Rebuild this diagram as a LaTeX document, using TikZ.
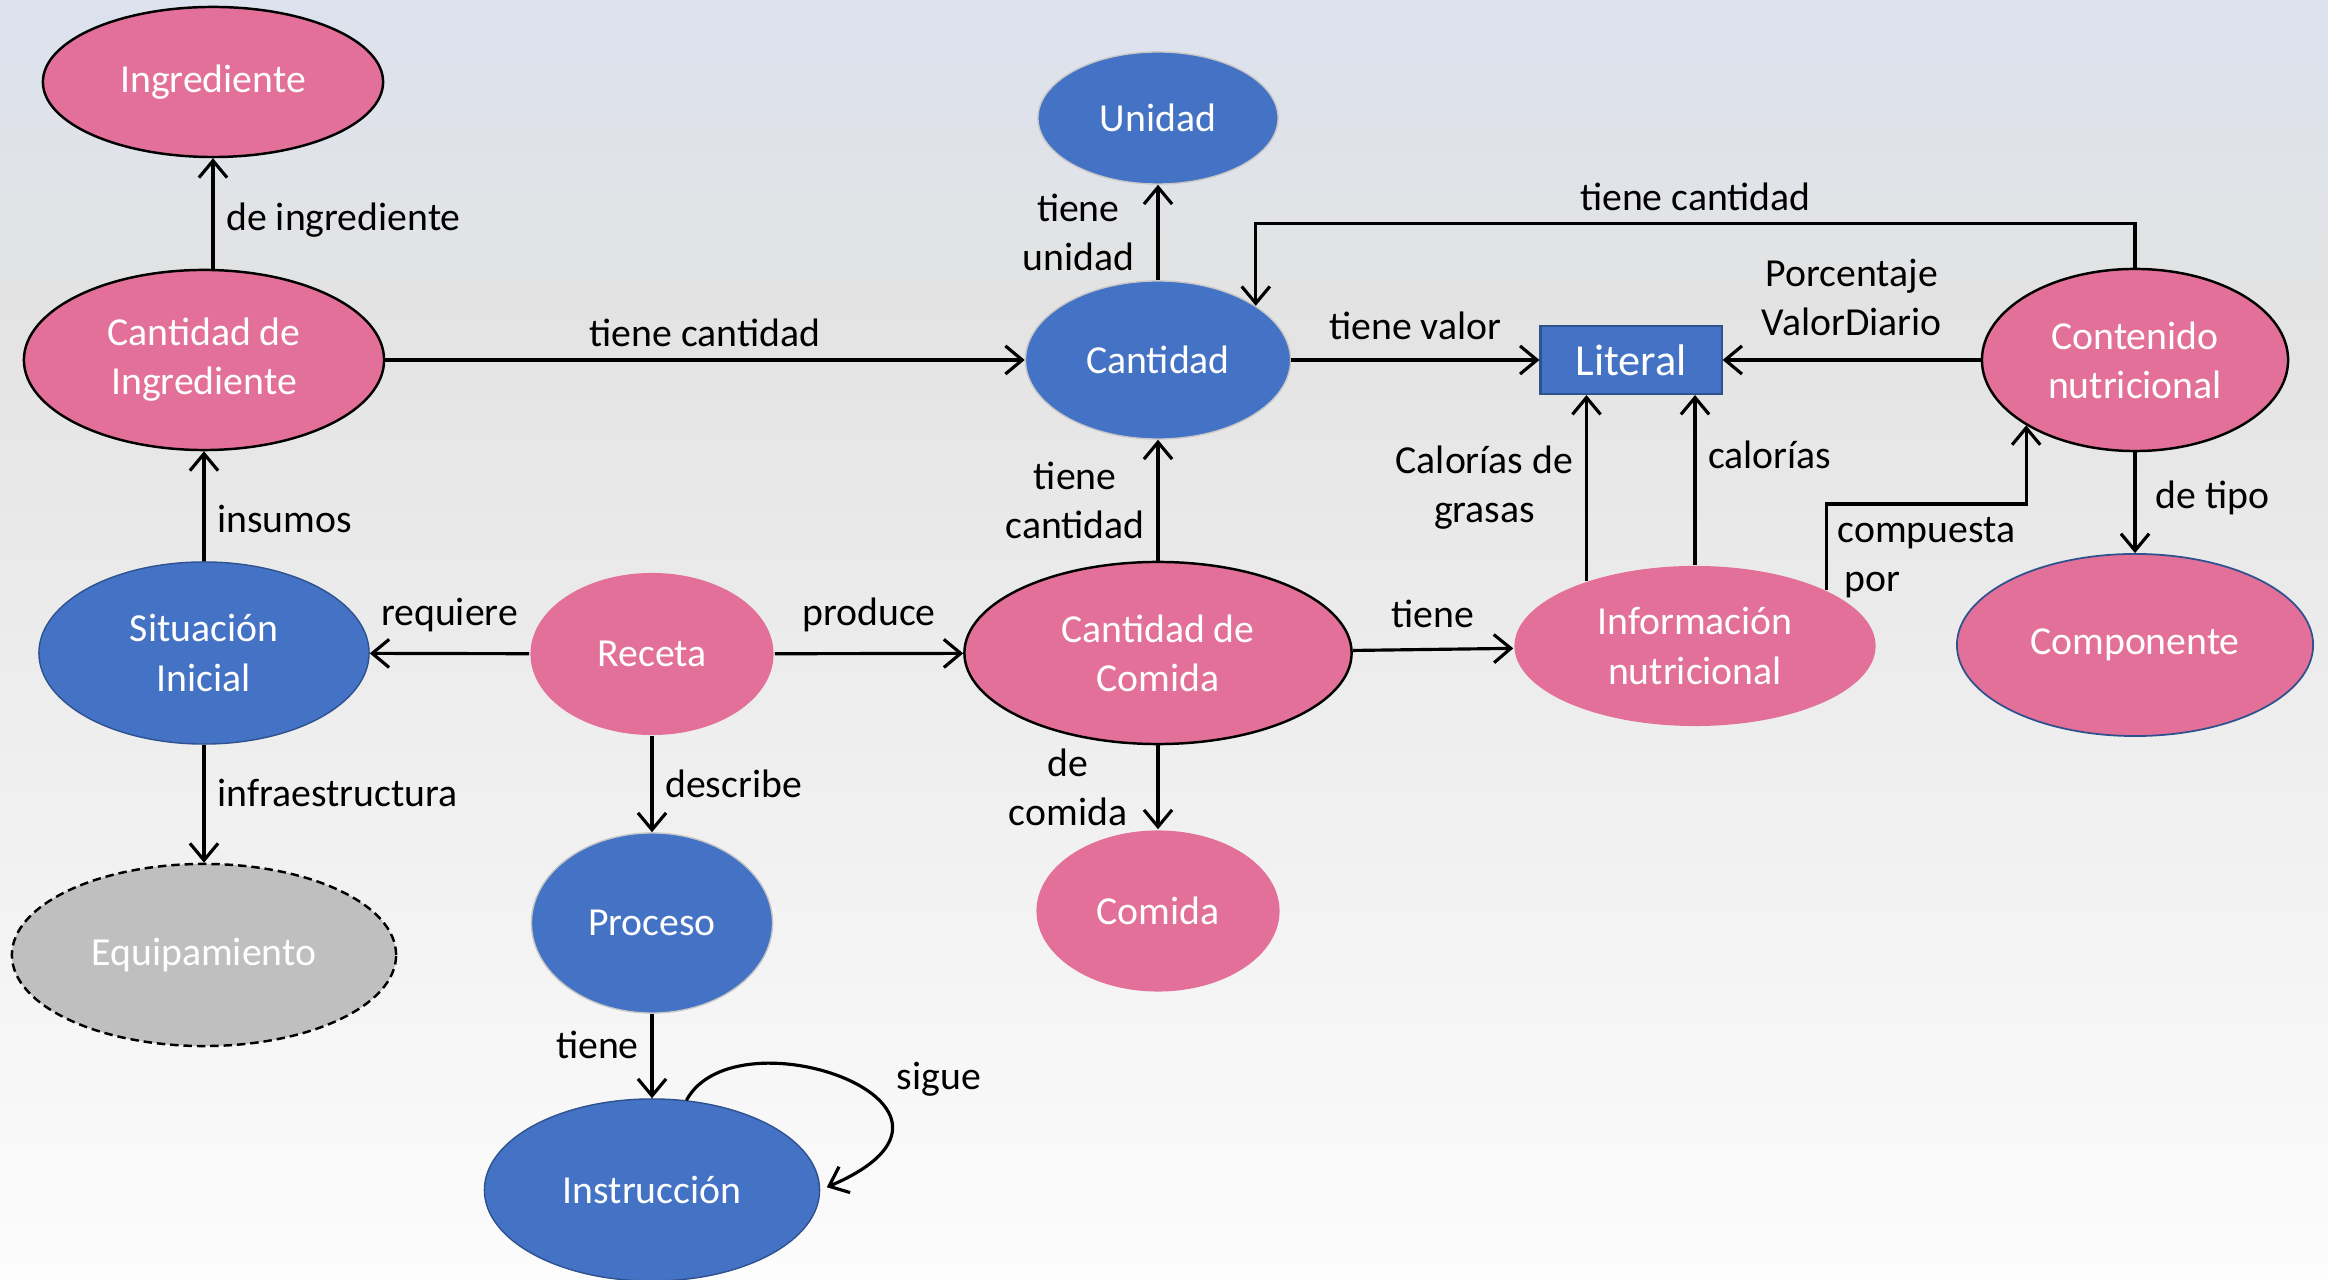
\documentclass[tikz,border=0pt]{standalone}
\usepackage{fontspec}
\setmainfont{Carlito}
\usetikzlibrary{shapes.geometric,arrows.meta}

\definecolor{rosa}{HTML}{E27098}
\definecolor{azul}{HTML}{4472C4}
\definecolor{azulborde}{HTML}{2F528F}
\definecolor{gris}{HTML}{BFBFBF}
\definecolor{fondoarriba}{HTML}{DCE2EE}
\definecolor{fondomedio}{HTML}{E3E3E3}
\definecolor{fondoabajo}{HTML}{FCFCFC}

\begin{document}
\begin{tikzpicture}[->,>={Straight Barb[length=4.8pt,width=8pt]},line width=0.9pt,x=0.01cm,y=-0.01cm,
  font=\fontsize{11.3}{14}\selectfont,
  concepto/.style={ellipse,inner sep=0pt,text=white,align=center,line width=0.7pt},
  rosado/.style={concepto,fill=rosa},
  azulado/.style={concepto,fill=azul,draw=azulborde,line width=0.4pt},
  azulsuave/.style={azulado,draw=black!22},
  literal/.style={rectangle,fill=azul,draw=azulborde,line width=0.6pt,text=white,minimum width=1.81cm,minimum height=0.68cm,font=\fontsize{12.6}{15}\selectfont}]
\shade[-,top color=fondoarriba,bottom color=fondomedio] (0,0) rectangle (2328,300);
\shade[-,top color=fondomedio,bottom color=fondoabajo] (0,299) rectangle (2328,1280);
\useasboundingbox (0,0) rectangle (2328,1280);
\node[rosado,draw,minimum width=3.4cm,minimum height=1.5cm] (ingrediente) at (213,82) {Ingrediente};
\node[rosado,draw,minimum width=3.6cm,minimum height=1.8cm] (cantingr) at (204,360) {Cantidad de\\Ingrediente};
\node[azulsuave,minimum width=2.4cm,minimum height=1.32cm] (unidad) at (1158,118) {Unidad};
\node[azulsuave,minimum width=2.65cm,minimum height=1.58cm] (cantidad) at (1158,360) {Cantidad};
\node[literal] (literal) at (1631,360) {Literal};
\node[rosado,draw,minimum width=3.06cm,minimum height=1.82cm] (contnutr) at (2135,360) {Contenido\\nutricional};
\node[azulado,minimum width=3.3cm,minimum height=1.82cm] (sitini) at (204,653) {Situación\\Inicial};
\node[rosado,minimum width=2.43cm,minimum height=1.62cm] (receta) at (652,654) {Receta};
\node[rosado,draw,minimum width=3.87cm,minimum height=1.82cm] (cantcomida) at (1158,653) {Cantidad de\\Comida};
\node[rosado,minimum width=3.61cm,minimum height=1.6cm] (infonutr) at (1695,646) {Información\\nutricional};
\node[rosado,draw=azulborde,line width=0.5pt,minimum width=3.56cm,minimum height=1.82cm] (componente) at (2135,645) {Componente};
\node[concepto,fill=gris,draw,dash pattern=on 2.4pt off 1.4pt,minimum width=3.84cm,minimum height=1.82cm] (equipamiento) at (204,955) {Equipamiento};
\node[azulsuave,minimum width=2.41cm,minimum height=1.8cm] (proceso) at (652,923) {Proceso};
\node[rosado,minimum width=2.43cm,minimum height=1.61cm] (comida) at (1158,911) {Comida};
\node[azulado,minimum width=3.35cm,minimum height=1.82cm] (instruccion) at (652,1190) {Instrucción};
\path (cantingr.north -| ingrediente) edge node[right,pos=0.44] {de ingrediente} (ingrediente);
\path (cantingr) edge node[above] {tiene cantidad} (cantidad);
\path (sitini) edge node[right,pos=0.38] {insumos} (cantingr);
\path (receta) edge node[above=2.5pt] {requiere} (sitini);
\path (receta) edge node[above=2.5pt] {produce} (cantcomida);
\path (receta) edge node[right] {describe} (proceso);
\path (sitini) edge node[right,pos=0.41] {infraestructura} (equipamiento);
\path (proceso) edge node[left,pos=0.37] {tiene} (instruccion);
\draw[shorten >=2pt] (instruccion.69) .. controls +(50,-92) and +(194,-83) .. (instruccion.east) node[pos=0.5,right=11pt] {sigue};
\path (cantidad) edge node[left=3pt,align=center] {tiene\\unidad} (unidad);
\path (cantidad) edge node[above=2pt] {tiene valor} (literal);
\path (cantcomida) edge node[left,align=center] {tiene\\cantidad} (cantidad);
\path (cantcomida) edge node[above=2.5pt] {tiene} (infonutr);
\path (cantcomida) edge node[left=5pt,align=center] {de\\comida} (comida);
\path (infonutr.149) edge node[left,align=center] {Calorías de\\grasas} (infonutr.149 |- literal.south);
\path (infonutr.north) edge node[right,pos=0.65] {calorías} (infonutr.north |- literal.south);
\path (contnutr) edge node[above=3pt,align=center] {Porcentaje\\ValorDiario} (literal);
\draw (contnutr.north) -- ++(0,-44) -| node[pos=0.25,above] {tiene cantidad} (cantidad.29);
\draw (infonutr.23) -- ++(0,-86) -| node[pos=0.25,below,align=left] {compuesta\\\hspace*{2pt}por} (contnutr.211);
\path (contnutr) edge node[right=2pt,pos=0.45] {de tipo} (componente);
\end{tikzpicture}
\end{document}
